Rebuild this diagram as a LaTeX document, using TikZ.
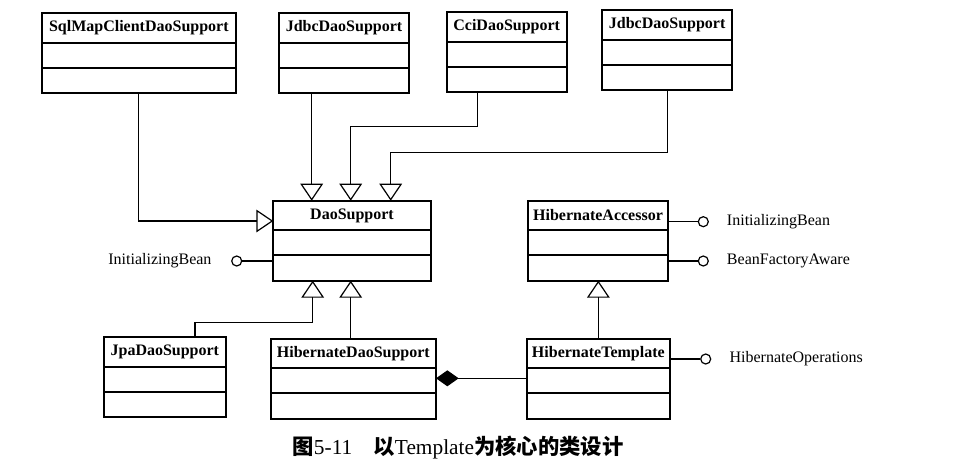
\documentclass[tikz,border=0pt]{standalone}
\usepackage{fontspec}
\setmainfont{Liberation Serif}
\newfontfamily\cjk{Noto Sans CJK SC}
\usetikzlibrary{arrows.meta,calc}

\tikzset{
  clsbox/.style={draw, rectangle, line width=1.3pt, outer sep=0pt, inner sep=0pt, minimum height=60pt},
  cmpline/.style={line width=1.1pt},
  hdr/.style={font=\fontsize{12}{14}\selectfont\bfseries, inner sep=0pt},
  lbl/.style={font=\fontsize{12}{14}\selectfont, inner sep=0pt},
  conn/.style={line width=0.9pt},
  inh/.style={-{Triangle[open,length=12.75pt,width=17pt,line width=0.9pt]}},
  comp/.style={{Diamond[length=17pt,width=12pt]}-},
  lolli/.style={draw, circle, line width=0.9pt, minimum size=7.5pt, inner sep=0pt},
  caption/.style={font=\fontsize{16}{19}\selectfont, inner sep=0pt}
}

\newcommand\classbox[5]{%
  \pgfmathsetlengthmacro\cbw{(#4-#2)*0.75pt}%
  \node[clsbox, minimum width=\cbw, anchor=north west] (#1) at (#2,#3) {};
  \draw[cmpline] ($(#1.north west)+(0,29.5)$) -- ($(#1.north east)+(0,29.5)$);
  \draw[cmpline] ($(#1.north west)+(0,54.5)$) -- ($(#1.north east)+(0,54.5)$);
  \node[hdr] (#1-t) at ($(#1.north)+(0,14.75)$) {#5};
}

\begin{document}
\begin{tikzpicture}[x=0.75pt, y=-0.75pt]
\useasboundingbox (0,0) rectangle (957,462);

% classes
\classbox{sql}{41.7}{13.3}{236}{SqlMapClientDaoSupport}
\classbox{jdbcA}{279}{13.3}{409}{JdbcDaoSupport}
\classbox{cci}{446.7}{12.3}{566.7}{CciDaoSupport}
\classbox{jdbcB}{602.3}{10.3}{732}{JdbcDaoSupport}
\classbox{dao}{273.3}{200.7}{430.7}{DaoSupport}
\classbox{ha}{527.7}{200.7}{668.3}{HibernateAccessor}
\classbox{jpa}{104}{337.3}{225.7}{JpaDaoSupport}
\classbox{hds}{270.7}{338.7}{436}{HibernateDaoSupport}
\classbox{ht}{526.7}{338.7}{670}{HibernateTemplate}

% bend points
\coordinate (b-sql) at (139,221);
\coordinate (xa) at (311.7,0);
\coordinate (b-cci0) at (477.3,126.7);
\coordinate (b-cci) at (350.7,126.7);
\coordinate (b-jb) at (390.7,152.3);
\coordinate (b-jpa0) at (195,322.3);
\coordinate (b-jpa) at (312.7,322.3);
\coordinate (xh) at (350.7,0);
\coordinate (ycomp) at (0,378.3);

% generalisations
\draw[conn,inh] (sql.south) |- (dao.west |- b-sql);
\draw[conn,inh] (jdbcA.south -| xa) -- (dao.north -| xa);
\draw[conn,inh] (cci.south -| b-cci0) -- (b-cci0) -- (b-cci) -- (dao.north -| b-cci);
\draw[conn,inh] (jdbcB.south) |- (b-jb) -- (dao.north -| b-jb);
\draw[conn,inh] (jpa.north -| b-jpa0) -- (b-jpa0) -- (b-jpa) -- (dao.south -| b-jpa);
\draw[conn,inh] (hds.north -| xh) -- (dao.south -| xh);
\draw[conn,inh] (ht.north) -- (ht.north |- ha.south);

% composition
\draw[conn,comp] (hds.east |- ycomp) -- (ht.west |- ycomp);

% interfaces (lollipops)
\node[lolli] (l0) at (236.7,261) {};
\draw[conn] (l0) -- (dao.west |- l0);
\node[lbl, anchor=east] (l0-t) at (211.7,261) {InitializingBean};

\node[lolli] (l1) at (703.3,221.7) {};
\draw[conn] (ha.east |- l1) -- (l1);
\node[lbl, anchor=west] (l1-t) at (726.7,221.7) {InitializingBean};

\node[lolli] (l2) at (703.3,261) {};
\draw[conn] (ha.east |- l2) -- (l2);
\node[lbl, anchor=west] (l2-t) at (726.7,261) {BeanFactoryAware};

\node[lolli] (l3) at (705.7,359) {};
\draw[conn] (ht.east |- l3) -- (l3);
\node[lbl, anchor=west] (l3-t) at (729.3,359) {HibernateOperations};

% caption
\node[caption] (cap) at (458,447.5) {{\cjk\bfseries 图}5-11\hspace{1em}{\cjk\bfseries 以}Template{\cjk\bfseries 为核心的类设计}};
\end{tikzpicture}
\end{document}
